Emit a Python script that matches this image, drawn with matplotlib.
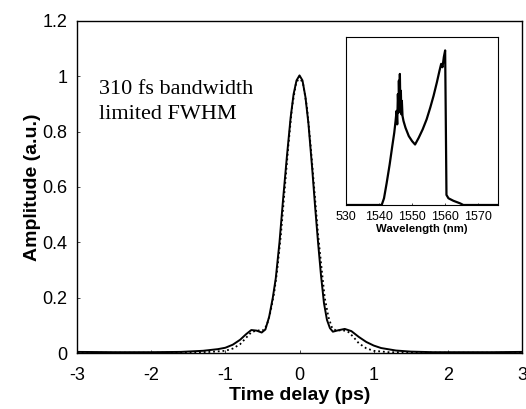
import numpy as np
import matplotlib.pyplot as plt

plt.rcParams['axes.unicode_minus'] = False

# autocorrelation trace (solid = measured, dotted = calculated)
t_meas = [-3.0, -2.5, -2.0, -1.6, -1.3, -1.1, -1.0, -0.9, -0.8, -0.72, -0.65, -0.58,
          -0.51, -0.46, -0.41, -0.36, -0.32, -0.27, -0.22, -0.17, -0.12, -0.08, -0.04,
          0.0, 0.04, 0.08, 0.12, 0.17, 0.21, 0.25, 0.29, 0.33, 0.37, 0.41, 0.45,
          0.52, 0.61, 0.7, 0.8, 0.9, 1.0, 1.1, 1.3, 1.5, 1.8, 2.2, 2.6, 3.0]
a_meas = [0.004, 0.003, 0.003, 0.004, 0.008, 0.014, 0.019, 0.03, 0.048, 0.068, 0.083, 0.081,
          0.074, 0.085, 0.13, 0.2, 0.27, 0.4, 0.56, 0.71, 0.85, 0.935, 0.985,
          1.003, 0.985, 0.925, 0.83, 0.67, 0.53, 0.4, 0.28, 0.18, 0.12, 0.09, 0.077,
          0.082, 0.087, 0.079, 0.058, 0.04, 0.027, 0.018, 0.009, 0.005, 0.003, 0.003, 0.003, 0.004]

t_calc = [-3.0, -2.0, -1.5, -1.2, -1.0, -0.9, -0.8, -0.72, -0.65, -0.57, -0.5,
          -0.44, -0.39, -0.34, -0.3, -0.25, -0.2, -0.15, -0.1, -0.05, 0.0,
          0.05, 0.1, 0.15, 0.2, 0.25, 0.3, 0.34, 0.39, 0.44, 0.5, 0.57,
          0.65, 0.72, 0.8, 0.9, 1.0, 1.2, 1.5, 2.0, 3.0]
a_calc = [0.001, 0.001, 0.002, 0.004, 0.008, 0.016, 0.032, 0.055, 0.075, 0.082, 0.08,
          0.1, 0.15, 0.22, 0.3, 0.43, 0.59, 0.75, 0.89, 0.97, 1.0,
          0.97, 0.89, 0.75, 0.59, 0.43, 0.3, 0.2, 0.13, 0.09, 0.08, 0.083,
          0.078, 0.06, 0.035, 0.017, 0.008, 0.003, 0.002, 0.001, 0.001]

# optical spectrum (inset)
wl = [1530.0, 1540.8, 1541.5, 1542.3, 1543.2, 1544.0, 1544.6, 1545.0, 1545.3, 1545.5,
      1545.7, 1545.9, 1546.0, 1546.15, 1546.3, 1546.45, 1546.6, 1546.75, 1546.9, 1547.1,
      1547.4, 1548.0, 1549.0, 1550.0, 1550.9, 1552.0, 1553.2, 1554.4, 1555.5, 1556.5,
      1557.5, 1558.3, 1558.8, 1559.2, 1559.6, 1560.0, 1560.2, 1560.4, 1561.0, 1562.5,
      1564.5, 1565.5, 1576.0]
spec = [0.0, 0.0, 0.04, 0.13, 0.24, 0.35, 0.43, 0.5, 0.56, 0.48,
        0.66, 0.55, 0.74, 0.6, 0.78, 0.58, 0.68, 0.54, 0.62, 0.53,
        0.5, 0.46, 0.41, 0.38, 0.36, 0.4, 0.45, 0.51, 0.58, 0.65,
        0.73, 0.8, 0.84, 0.82, 0.88, 0.92, 0.5, 0.06, 0.04, 0.025,
        0.01, 0.0, 0.0]
wl_ticks = [1530, 1540, 1550, 1560, 1570]
wl_labels = ['530', '1540', '1550', '1560', '1570']

fig = plt.figure(figsize=(5.26, 4.09), dpi=100)
ax = fig.add_axes([0.1464, 0.1369, 0.846, 0.812])

ax.plot(t_calc, a_calc, color='black', lw=1.3, ls=(0, (1, 1.6)))
ax.plot(t_meas, a_meas, color='black', lw=1.4)

ax.set_xlim(-3, 3)
ax.set_ylim(0, 1.2)
ax.set_xticks([-3, -2, -1, 0, 1, 2, 3])
ax.set_yticks([0, 0.2, 0.4, 0.6, 0.8, 1.0, 1.2])
ax.set_yticklabels(['0', '0.2', '0.4', '0.6', '0.8', '1', '1.2'])
ax.tick_params(direction='in', length=2, width=0.5, labelsize=13, pad=10)
ax.tick_params(axis='y', pad=7)
for s in ax.spines.values():
    s.set_linewidth(1.0)
ax.set_xlabel('Time delay (ps)', fontsize=14, fontweight='bold', family='Liberation Sans', labelpad=2)
ax.set_ylabel('Amplitude (a.u.)', fontsize=14, fontweight='bold', family='Liberation Sans', labelpad=1)
for lab in ax.get_xticklabels() + ax.get_yticklabels():
    lab.set_family('Liberation Sans')

ax.text(-2.7, 0.985, '310 fs bandwidth\nlimited FWHM', fontsize=16, family='Liberation Serif',
        va='top', ha='left', linespacing=1.4)

# inset spectrum
ins = fig.add_axes([0.6578, 0.4988, 0.289, 0.4108])
ins.plot(wl, spec, color='black', lw=1.6)
ins.set_xlim(1530, 1576)
ins.set_ylim(0, 1.0)
ins.set_xticks(wl_ticks)
ins.set_xticklabels(wl_labels)
ins.set_yticks([])
ins.tick_params(direction='in', length=1.5, width=0.5, labelsize=9, pad=4)
for lab in ins.get_xticklabels():
    lab.set_family('Liberation Sans')
ins.set_xlabel('Wavelength (nm)', fontsize=8.2, fontweight='bold', family='Liberation Sans', labelpad=1)

fig.savefig('out.png', dpi=100)
